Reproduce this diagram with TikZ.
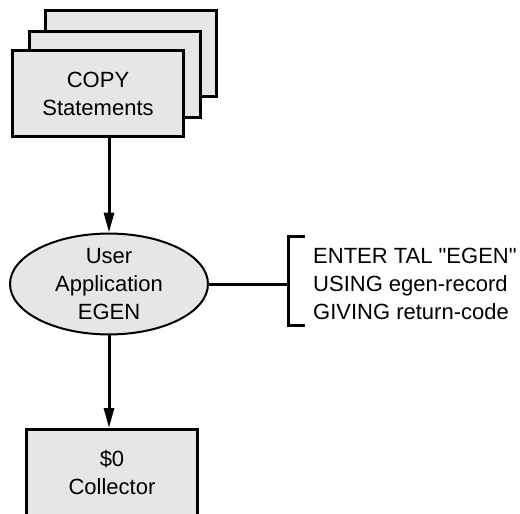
\documentclass[tikz,border=0pt]{standalone}
\usepackage{fontspec}
\setmainfont{Liberation Sans}[Ligatures=TeXOff]
\usetikzlibrary{arrows.meta,shapes.geometric}
\definecolor{boxgray}{HTML}{E6E6E6}
\begin{document}
\begin{tikzpicture}[x=1pt,y=-1pt,
  txt/.style={font=\fontsize{22}{28}\selectfont},
  box/.style={txt,draw,line width=3pt,fill=boxgray,minimum width=171pt,minimum height=86pt,inner sep=0pt,align=center},
  ell/.style={txt,ellipse,draw,line width=2pt,fill=boxgray,minimum width=198pt,minimum height=100pt,inner sep=0pt,align=center},
  arrowline/.style={line width=3pt,-{Triangle[length=20pt,width=10pt]}},
  plainline/.style={line width=3pt}]
\useasboundingbox (0,0) rectangle (520,514);
\clip (0,0) rectangle (520,514);
\node[box] (back) at (131,53) {};
\node[box] (mid) at (115,74.5) {};
\node[box] (front) at (98,93.5) {COPY\\Statements};
\node[ell] (app) at (109,284) {User\\Application\\EGEN};
\node[txt,anchor=west,align=left,inner sep=0pt] (code) at (313,284) {ENTER TAL "EGEN"\\USING egen-record\\GIVING return-code};
\coordinate (bk) at (288,284);
\coordinate (bt) at (288,236);
\coordinate (bb) at (288,325);
\node[box] (coll) at (112,472.5) {\$0\\Collector};
\draw[arrowline] (app.north |- front.south) -- (app.north);
\draw[arrowline] (app.south) -- (app.south |- coll.north);
\draw[plainline] (app.east) -- (bk);
\draw[plainline] ([xshift=17pt]bt) -- (bt) -- (bb) -- ([xshift=17pt]bb);
\end{tikzpicture}
\end{document}
